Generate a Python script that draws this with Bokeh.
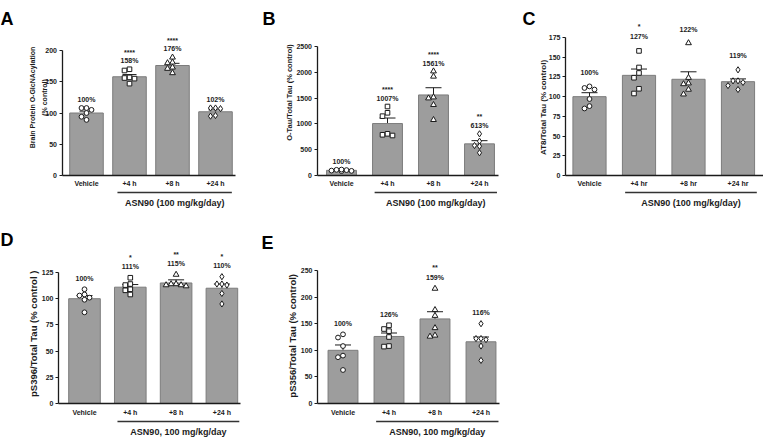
import math
from bokeh.plotting import figure
from bokeh.models import ColumnDataSource, Range1d, FixedTicker, Whisker, TeeHead
from bokeh.layouts import row, column
from bokeh.embed import file_html
from bokeh.resources import INLINE
from bokeh.core.properties import value

FONT = "Liberation Sans"
INK = "#1b1b1b"
BAR_FILL = "#9d9d9d"
BAR_LINE = "#7c7c7c"
MARKERS = ["circle", "square", "triangle", "diamond"]
MARKER_SIZE = {"circle": 4.8, "square": 4.6, "triangle": 5.8, "diamond": 6.2}

# ---------------- data ----------------
CATS_H = ["Vehicle", "+4 h", "+8 h", "+24 h"]
CATS_HR = ["Vehicle", "+4 hr", "+8 hr", "+24 hr"]
GROUP_1 = "ASN90 (100 mg/kg/day)"
GROUP_2 = "ASN90, 100 mg/kg/day"
BRACKET = (0.72, 3.38)   # span of the treatment bracket, in category units

A_MEAN = [100, 158, 176, 102]
A_SEM = [3.0, 3.5, 3.5, 3.0]
A_VEH = [108, 105, 108, 100, 94, 89]
A_4H = [170, 168, 157, 156, 155, 147]
A_8H = [189, 181, 180, 173, 171, 164]
A_24H = [108, 108, 107, 96, 95]
A_STARS = ["", "****", "****", ""]
A_TICKS = [0, 50, 100, 150, 200]
A_YLABEL = ["Brain Protein O-GlcNAcylation", "(% control)"]

B_MEAN = [100, 1007, 1561, 613]
B_SEM = [8, 107, 140, 62]
B_VEH = [85, 115, 105, 95, 110, 90]
B_4H = [1337, 1215, 1150, 789, 808, 775]
B_8H = [2021, 1919, 1517, 1498, 1370, 1079]
B_24H = [808, 665, 581, 568, 440]
B_STARS = ["", "****", "****", "**"]
B_TICKS = [0, 500, 1000, 1500, 2000, 2500]
B_YLABEL = ["O-Tau/Total Tau (% control)"]

C_MEAN = [100, 127, 122, 119]
C_SEM = [5, 8, 9.5, 3.5]
C_VEH = [113, 111, 109, 97, 88, 85]
C_4H = [158, 137, 130, 124, 110, 104]
C_8H = [168, 124, 117, 116, 109, 103]
C_24H = [134, 120, 120, 118, 114, 109]
C_STARS = ["", "*", "", ""]
C_TICKS = [0, 25, 50, 75, 100, 125, 150, 175]
C_YLABEL = ["AT8/Total Tau (% control)"]

D_MEAN = [100, 111, 115, 110]
D_SEM = [3, 2.5, 3, 4]
D_VEH = [109, 104, 103, 101, 99, 87]
D_4H = [120, 114, 113, 109, 108, 104]
D_8H = [123, 114, 114, 113, 113, 112]
D_24H = [121, 114, 114, 113, 105, 95]
D_STARS = ["", "*", "**", "*"]
D_TICKS = [0, 25, 50, 75, 100, 125]
D_YLABEL = ["pS396/Total Tau  (% control )"]

E_MEAN = [100, 126, 159, 116]
E_SEM = [10, 6.5, 13.5, 9]
E_VEH = [130, 124, 108, 90, 87, 63]
E_4H = [147, 140, 136, 125, 108, 107]
E_8H = [216, 176, 165, 142, 128, 126]
E_24H = [150, 122, 122, 120, 108, 81]
E_STARS = ["", "", "**", ""]
E_TICKS = [0, 50, 100, 150, 200, 250]
E_YLABEL = ["pS356/Total Tau  (% control)"]


def swarm(vals, ppu, cat_px, d=5.0):
    """deterministic beeswarm: horizontal offsets (category units), at most 2 steps aside"""
    order = sorted(range(len(vals)), key=lambda k: -vals[k])
    placed = []
    offs = [0.0] * len(vals)
    for k in order:
        y = vals[k] * ppu
        best, best_d = 0.0, -1.0
        for s in (0, -1, 1, -2, 2):
            x = s * d
            md = min((math.hypot(x - px, y - py) for px, py in placed), default=1e9)
            if md >= d:
                best = x
                break
            if md > best_d:
                best, best_d = x, md
        placed.append((best, y))
        offs[k] = best / cat_px
    return offs


def txt(p, x, y, t, size, **kw):
    p.text(x=x, y=y, text=t, text_font=value(FONT), text_font_size=size,
           text_font_style="bold", text_color=INK, **kw)


def make_panel(letter, cats, means, sems, groups, stars, ticks, ylabel, glabel, g):
    n = len(cats)
    pos = list(range(n))
    ymax = ticks[-1]
    ppu = g["axis_px"] / ymax
    cpx = g["cat_px"]

    def dx(px):
        return (px - g["c0"]) / cpx

    def dy(py):
        return (g["y0"] - py) / ppu

    p = figure(x_range=Range1d(dx(g["x"]), dx(g["x"] + g["w"])),
               y_range=Range1d(dy(g["y"] + g["h"]), dy(g["y"])),
               width=g["w"], height=g["h"], min_border=0,
               min_border_left=0, min_border_right=0, min_border_top=0, min_border_bottom=0,
               output_backend="svg", toolbar_location=None, tools="")
    p.outline_line_color = None
    p.xgrid.visible = False
    p.ygrid.visible = False
    p.background_fill_color = "white"
    p.border_fill_color = "white"

    src = ColumnDataSource(dict(
        x=pos, mean=means,
        up=[m + s for m, s in zip(means, sems)],
        lo=[m - s for m, s in zip(means, sems)],
    ))
    p.vbar(x="x", top="mean", width=g["bw"], source=src,
           fill_color=BAR_FILL, line_color=BAR_LINE, line_width=1)

    for i, vals in enumerate(groups):
        offs = swarm(vals, ppu, cpx)
        mk = MARKERS[i]
        p.scatter(x=[pos[i] + o for o in offs], y=vals, marker=mk,
                  size=MARKER_SIZE[mk], fill_color="white", line_color=INK,
                  line_width=1)

    p.add_layout(Whisker(source=src, base="x", upper="up", lower="lo",
                         line_color=INK, line_width=1,
                         upper_head=TeeHead(size=g["cap"], line_color=INK, line_width=1),
                         lower_head=TeeHead(size=g["cap"], line_color=INK, line_width=1)))

    # value labels and significance stars
    ly = [max(max(v), m + s) + g["lgap"] / ppu for v, m, s in zip(groups, means, sems)]
    sy = [y + g["sgap"] / ppu for y in ly]
    txt(p, pos, ly, [f"{m}%" for m in means], "7px",
        text_align="center", text_baseline="middle")
    txt(p, pos, sy, stars, "7px", text_align="center", text_baseline="middle")

    # axes (library axes, pinned at the data origin)
    yax = p.yaxis[0]
    yax.fixed_location = dx(g["ax"])
    yax.bounds = (0, ymax)
    yax.ticker = FixedTicker(ticks=ticks)
    yax.major_label_text_font = FONT
    yax.major_label_text_font_size = "7px"
    yax.major_label_text_font_style = "bold"
    yax.major_label_text_color = INK
    yax.major_label_standoff = 2
    yax.major_tick_out = 3
    yax.major_tick_in = 0
    yax.minor_tick_out = 0
    yax.minor_tick_in = 0
    yax.axis_line_width = 1.3
    yax.axis_line_color = INK
    yax.major_tick_line_color = INK
    yax.major_tick_line_width = 1.2

    xax = p.xaxis[0]
    xax.fixed_location = 0
    xax.bounds = (dx(g["ax"]), dx(g["xe"]))
    xax.ticker = FixedTicker(ticks=pos)
    xax.major_label_overrides = {i: c for i, c in zip(pos, cats)}
    xax.major_tick_out = 0
    xax.major_tick_in = 0
    xax.minor_tick_out = 0
    xax.minor_tick_in = 0
    xax.major_label_standoff = g["xls"]
    xax.major_label_text_font = FONT
    xax.major_label_text_font_size = "7px"
    xax.major_label_text_font_style = "bold"
    xax.major_label_text_color = INK
    xax.axis_line_width = 1.3
    xax.axis_line_color = INK

    # y axis title (one rotated text per line)
    for line, lx in zip(ylabel, g["ylx"]):
        txt(p, [dx(lx)], [dy(g["yly"])], [line], g["yls"], angle=math.pi / 2,
            text_align="center", text_baseline="middle")

    # panel letter
    p.text(x=[dx(g["lx"])], y=[dy(g["lyb"])], text=[letter], text_font=value(FONT),
           text_font_size="18px", text_font_style="bold", text_color="black",
           text_align="left", text_baseline="alphabetic")

    # treatment bracket and its caption
    yb = dy(g["y0"] + g["brk"])
    p.segment(x0=[BRACKET[0]], y0=[yb], x1=[BRACKET[1]], y1=[yb],
              line_color="#333333", line_width=1.5)
    txt(p, [(BRACKET[0] + BRACKET[1]) / 2], [dy(g["y0"] + g["glb"])], [glabel], "9px",
        text_align="center", text_baseline="middle")
    return p


GA = dict(x=0, y=0, w=258, h=210, c0=86, cat_px=43, ax=61.5, xe=235, y0=175, axis_px=125,
          bw=0.78, cap=14, lx=0, lyb=18, ylx=[32, 43.5], yly=97, yls="7px",
          lgap=9, sgap=8, brk=17, glb=27, xls=4)
GB = dict(x=258, y=0, w=248, h=210, c0=341, cat_px=46, ax=316.5, xe=498, y0=175, axis_px=129,
          bw=0.65, cap=16, lx=262, lyb=18, ylx=[288.5], yly=92, yls="7.5px",
          lgap=8, sgap=9, brk=17, glb=27, xls=4)
GC = dict(x=506, y=0, w=257, h=210, c0=589, cat_px=49.5, ax=565, xe=763, y0=175, axis_px=138,
          bw=0.67, cap=16, lx=522, lyb=18, ylx=[543], yly=107, yls="8px",
          lgap=14, sgap=10, brk=17, glb=27, xls=4)
GD = dict(x=0, y=210, w=258, h=227, c0=84, cat_px=45.8, ax=58, xe=240, y0=403, axis_px=131,
          bw=0.69, cap=16, lx=0, lyb=239, ylx=[32.5], yly=332, yls="9.5px",
          lgap=11, sgap=9, brk=18, glb=28, xls=5)
GE = dict(x=258, y=210, w=248, h=227, c0=342.5, cat_px=46, ax=317, xe=499, y0=403, axis_px=133,
          bw=0.65, cap=16, lx=261, lyb=242, ylx=[292], yly=334, yls="9.5px",
          lgap=11, sgap=10, brk=18, glb=28, xls=5)

pA = make_panel("A", CATS_H, A_MEAN, A_SEM, [A_VEH, A_4H, A_8H, A_24H], A_STARS,
                A_TICKS, A_YLABEL, GROUP_1, GA)
pB = make_panel("B", CATS_H, B_MEAN, B_SEM, [B_VEH, B_4H, B_8H, B_24H], B_STARS,
                B_TICKS, B_YLABEL, GROUP_1, GB)
pC = make_panel("C", CATS_HR, C_MEAN, C_SEM, [C_VEH, C_4H, C_8H, C_24H], C_STARS,
                C_TICKS, C_YLABEL, GROUP_1, GC)
pD = make_panel("D", CATS_H, D_MEAN, D_SEM, [D_VEH, D_4H, D_8H, D_24H], D_STARS,
                D_TICKS, D_YLABEL, GROUP_2, GD)
pE = make_panel("E", CATS_H, E_MEAN, E_SEM, [E_VEH, E_4H, E_8H, E_24H], E_STARS,
                E_TICKS, E_YLABEL, GROUP_2, GE)

layout = column(row(pA, pB, pC), row(pD, pE))
open("out.html", "w").write(file_html(layout, INLINE))
